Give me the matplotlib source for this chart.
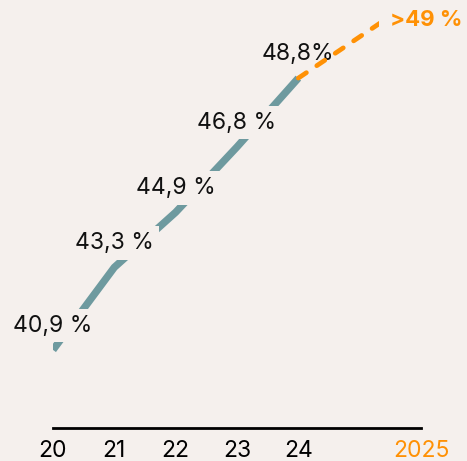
import matplotlib.pyplot as plt

# data
years = ['20', '21', '22', '23', '24', '2025']
xpos = [0, 1, 2, 3, 4, 6]
values = [40.9, 43.3, 44.9, 46.8, 48.8]
labels = ['40,9 %', '43,3 %', '44,9 %', '46,8 %', '48,8%']
forecast_x = [4, 6]
forecast_y = [48.8, 51.2]
forecast_label = '>49 %'

bg = '#F5F0ED'
teal = '#6E9A9F'
orange = '#FF9105'

plt.rcParams['font.family'] = ['Inter', 'DejaVu Sans']
plt.rcParams['lines.scale_dashes'] = False

fig = plt.figure(figsize=(4.67, 4.61), dpi=100, facecolor=bg)
ax = fig.add_axes([53 / 467, 33 / 461, 368 / 467, 428 / 461])
ax.set_facecolor(bg)

ax.plot(xpos[:5], values, color=teal, lw=5.3, solid_capstyle='butt', zorder=2)
ax.plot(forecast_x, forecast_y, color=orange, lw=3.4, dashes=(7, 9),
        dash_capstyle='round', zorder=4)

for x, v, t in zip(xpos, values, labels):
    ax.annotate(t, xy=(x, v), xytext=(0, 17.5), textcoords='offset points',
                ha='center', va='center', fontsize=16.5, color='#111111',
                bbox=dict(boxstyle='square,pad=0.25', fc=bg, ec='none'), zorder=3)

ax.annotate(forecast_label, xy=(6, 50.5), xytext=(4, 0), textcoords='offset points',
            ha='center', va='center', fontsize=16, fontweight='bold', color=orange,
            bbox=dict(boxstyle='square,pad=0.5', fc=bg, ec='none'), zorder=5,
            annotation_clip=False)

ax.set_xlim(0, 6)
ax.set_ylim(38.63, 51.07)
ax.set_xticks(xpos)
ax.set_xticklabels(years, fontsize=16.5)
ax.get_xticklabels()[-1].set_color(orange)
ax.tick_params(axis='x', length=0, pad=8.5)
ax.set_yticks([])
for s in ['top', 'left', 'right']:
    ax.spines[s].set_visible(False)
ax.spines['bottom'].set_linewidth(2)

fig.savefig('out.png', dpi=100, facecolor=bg)
